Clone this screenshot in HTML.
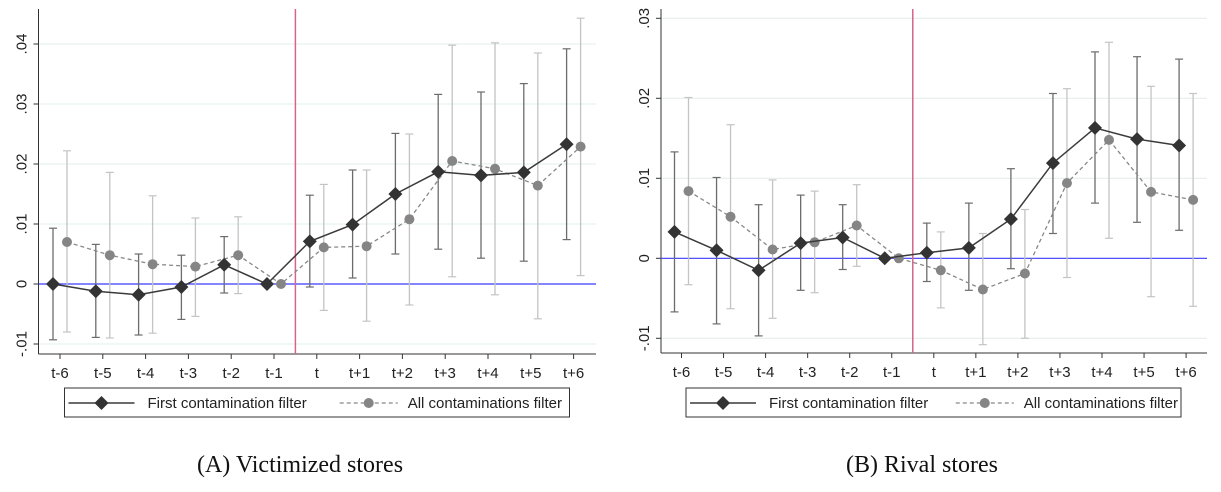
<!DOCTYPE html>
<html><head><meta charset="utf-8"><style>
body{margin:0;background:#fff;width:1221px;height:492px;overflow:hidden;font-family:"Liberation Sans",sans-serif}
svg{position:absolute;left:0;top:0}
.cap{position:absolute;top:452px;font-family:"Liberation Serif",serif;font-size:24px;color:#111;text-align:center;width:400px}
</style></head><body>
<svg id="chart" width="1221" height="492"></svg>
<div class="cap" style="left:100px">(A) Victimized stores</div>
<div class="cap" style="left:722px">(B) Rival stores</div>
<script>
const categories=["t-6","t-5","t-4","t-3","t-2","t-1","t","t+1","t+2","t+3","t+4","t+5","t+6"];
const aFirst=[0,-0.0012,-0.0018,-0.0005,0.0032,0,0.0071,0.0099,0.015,0.0187,0.0181,0.0186,0.0233];
const aFirstLo=[-0.0093,-0.0089,-0.0085,-0.0059,-0.0015,null,-0.0005,0.001,0.005,0.0058,0.0043,0.0038,0.0074];
const aFirstHi=[0.0093,0.0066,0.005,0.0048,0.0079,null,0.0148,0.019,0.0251,0.0316,0.032,0.0334,0.0392];
const aAll=[0.007,0.0048,0.0033,0.0029,0.0048,0,0.0061,0.0063,0.0108,0.0205,0.0192,0.0164,0.0229];
const aAllLo=[-0.008,-0.009,-0.0082,-0.0054,-0.0016,null,-0.0044,-0.0062,-0.0035,0.0012,-0.0018,-0.0058,0.0014];
const aAllHi=[0.0222,0.0186,0.0147,0.011,0.0112,null,0.0166,0.019,0.025,0.0398,0.0402,0.0385,0.0443];
const aTicks=[-0.01,0,0.01,0.02,0.03,0.04];
const aTickLabels=["-.01","0",".01",".02",".03",".04"];
const bFirst=[0.0033,0.001,-0.0015,0.0019,0.0026,0,0.0007,0.0013,0.0049,0.0119,0.0163,0.0149,0.0141];
const bFirstLo=[-0.0067,-0.0082,-0.0097,-0.004,-0.0014,null,-0.0029,-0.004,-0.0013,0.0031,0.0069,0.0045,0.0035];
const bFirstHi=[0.0133,0.0101,0.0067,0.0079,0.0067,null,0.0044,0.0069,0.0112,0.0206,0.0258,0.0252,0.0249];
const bAll=[0.0084,0.0052,0.0011,0.002,0.0041,0,-0.0015,-0.0039,-0.0019,0.0094,0.0148,0.0083,0.0073];
const bAllLo=[-0.0033,-0.0063,-0.0075,-0.0043,-0.001,null,-0.0062,-0.0108,-0.01,-0.0024,0.0025,-0.0048,-0.006];
const bAllHi=[0.0201,0.0167,0.0098,0.0084,0.0092,null,0.0033,0.0031,0.0061,0.0212,0.027,0.0215,0.0206];
const bTicks=[-0.01,0,0.01,0.02,0.03];
const bTickLabels=["-.01","0",".01",".02",".03"];

const svg=document.getElementById('chart');
const NS="http://www.w3.org/2000/svg";
function mk(tag,at,parent){const e=document.createElementNS(NS,tag);for(const k in at)e.setAttribute(k,at[k]);(parent||svg).appendChild(e);return e;}

function panel(p){
  const g=mk('g',{});
  
  
  const X=i=>p.x0+i*p.dx;
  const Y=v=>p.y0-v*p.py;
  p.ticks.forEach((t,i)=>{
    if(t!==0){const l=mk('line',{x1:p.axX,x2:p.right,y1:Y(t),y2:Y(t),stroke:'#e3ecee','stroke-width':1},g);
    }
    mk('line',{x1:p.axX-5,x2:p.axX,y1:Y(t),y2:Y(t),stroke:'#333'},g);
    const tx=mk('text',{x:p.axX-12,y:Y(t),transform:`rotate(-90 ${p.axX-12} ${Y(t)})`,'text-anchor':'middle','font-size':15,fill:'#222'},g);
    tx.textContent=p.tl[i];
    
  });
  mk('line',{x1:p.axX,x2:p.axX,y1:p.top,y2:p.axY,stroke:'#333','stroke-width':1},g);
  mk('line',{x1:p.axX,x2:p.right,y1:p.axY,y2:p.axY,stroke:'#333','stroke-width':1},g);
  categories.forEach((c,i)=>{
    mk('line',{x1:X(i),x2:X(i),y1:p.axY,y2:p.axY+5,stroke:'#333'},g);
    const t=mk('text',{x:X(i),y:p.axY+24,'text-anchor':'middle','font-size':15,fill:'#222'},g);
    t.textContent=c;
    
  });
  const z=mk('line',{x1:p.axX,x2:p.right,y1:Y(0),y2:Y(0),stroke:'#3a3aff','stroke-width':1.2},g);
  
  const r=mk('line',{x1:(X(5)+X(6))/2,x2:(X(5)+X(6))/2,y1:p.top,y2:p.axY,stroke:'#d5658a','stroke-width':1.5},g);
  
  const off=7;
  function cis(lo,hi,dx,col){
    lo.forEach((l,i)=>{ if(l===null)return; const x=X(i)+dx;
      mk('line',{x1:x,x2:x,y1:Y(l),y2:Y(hi[i]),stroke:col,'stroke-width':1.3},g);
      mk('line',{x1:x-4,x2:x+4,y1:Y(l),y2:Y(l),stroke:col,'stroke-width':1.2},g);
      mk('line',{x1:x-4,x2:x+4,y1:Y(hi[i]),y2:Y(hi[i]),stroke:col,'stroke-width':1.2},g);
    });
  }
  cis(p.allLo,p.allHi,off,'#c4c4c4');
  cis(p.firstLo,p.firstHi,-off,'#6c6c6c');
  const all=mk('polyline',{points:p.all.map((v,i)=>`${X(i)+off},${Y(v)}`).join(' '),fill:'none',stroke:'#888','stroke-width':1.3,'stroke-dasharray':'4,3'},g);
  
  p.all.forEach((v,i)=>{const c=mk('circle',{cx:X(i)+off,cy:Y(v),r:5,fill:'#858585'},g);
    });
  const fl=mk('polyline',{points:p.first.map((v,i)=>`${X(i)-off},${Y(v)}`).join(' '),fill:'none',stroke:'#3a3a3a','stroke-width':1.5},g);
  
  p.first.forEach((v,i)=>{const x=X(i)-off,y=Y(v);
    const d=mk('polygon',{points:`${x},${y-7} ${x+7},${y} ${x},${y+7} ${x-7},${y}`,fill:'#333'},g);
    });
  const lg=mk('g',{},g);
  
  mk('rect',{x:p.lx,y:388,width:p.lw,height:29,fill:'#fff',stroke:'#333','stroke-width':1},lg);
  const a=p.lx+4;
  mk('line',{x1:a,x2:a+66,y1:403,y2:403,stroke:'#3a3a3a','stroke-width':1.5},lg);
  mk('polygon',{points:`${a+33},${396} ${a+40},403 ${a+33},410 ${a+26},403`,fill:'#333'},lg);
  const t1=mk('text',{x:a+79,y:408,'font-size':15,fill:'#222'},lg);t1.textContent='First contamination filter';
  
  const b=p.lx+p.lw*0.545;
  mk('line',{x1:b,x2:b+58,y1:403,y2:403,stroke:'#888','stroke-width':1.3,'stroke-dasharray':'4,3'},lg);
  mk('circle',{cx:b+29,cy:403,r:5,fill:'#858585'},lg);
  const t2=mk('text',{x:b+68,y:408,'font-size':15,fill:'#222'},lg);t2.textContent='All contaminations filter';
  
}
panel({name:'panel-victimized',axX:38.5,right:596,top:9,axY:354,x0:60,dx:42.8,y0:284,py:6000,
  ticks:aTicks,tl:aTickLabels,first:aFirst,firstLo:aFirstLo,firstHi:aFirstHi,all:aAll,allLo:aAllLo,allHi:aAllHi,lx:64.5,lw:505});
panel({name:'panel-rival',axX:661,right:1207,top:9,axY:353,x0:681.5,dx:42.05,y0:258.3,py:8000,
  ticks:bTicks,tl:bTickLabels,first:bFirst,firstLo:bFirstLo,firstHi:bFirstHi,all:bAll,allLo:bAllLo,allHi:bAllHi,lx:686,lw:495});
</script>
</body></html>
